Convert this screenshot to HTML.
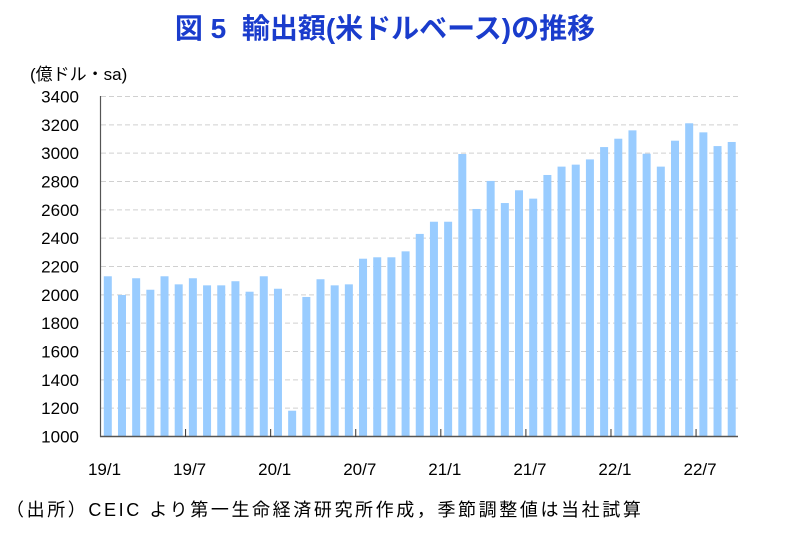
<!DOCTYPE html>
<html><head><meta charset="utf-8"><style>
body{margin:0;background:#fff;width:786px;height:532px;overflow:hidden}
svg text{font-family:"Liberation Sans","Noto Sans CJK JP",sans-serif}
</style></head><body>
<svg width="786" height="532" viewBox="0 0 786 532">
<text x="385" y="38" text-anchor="middle" font-size="28" font-weight="bold" fill="#1a3ccc" xml:space="preserve">図 5  輸出額(米ドルベース)の推移</text>
<text x="30" y="80" font-size="17" fill="#000">(億ドル・sa)</text>
<g id="grid" stroke="#d0d0d0" stroke-dasharray="5,3" stroke-width="1"></g>
<g id="ylab" font-size="17" text-anchor="end" fill="#000"></g>
<g id="bars" fill="#99ccff"></g>
<line x1="100.5" y1="96" x2="100.5" y2="437" stroke="#555" stroke-width="1.2"/>
<line x1="100" y1="436.5" x2="738" y2="436.5" stroke="#555" stroke-width="1.5"/>
<g id="ticks" stroke="#333"></g>
<g id="xlab" font-size="17" text-anchor="middle" fill="#000"></g>
<text x="6" y="516" font-size="18" fill="#000" letter-spacing="2.6">（出所）CEIC より第一生命経済研究所作成，季節調整値は当社試算</text>
</svg>
<script>
var ns="http://www.w3.org/2000/svg";
function el(p,t,a,txt){var e=document.createElementNS(ns,t);for(var k in a)e.setAttribute(k,a[k]);if(txt)e.textContent=txt;document.getElementById(p).appendChild(e);}
function Y(v){return 436.5-(v-1000)*340/2400;}
for(var v=1000;v<=3400;v+=200){var y=Y(v);if(v>1000)el("grid","line",{x1:101,x2:738,y1:y,y2:y});el("ylab","text",{x:79,y:y+6},String(v));}
var d=[2131,1999,2117,2036,2131,2074,2117,2067,2067,2096,2022,2131,2043,1182,1985,2110,2067,2074,2255,2265,2265,2307,2430,2516,2516,2994,2606,2804,2648,2738,2679,2846,2905,2919,2956,3043,3102,3161,2996,2905,3088,3211,3147,3050,3079];
var w=14.18;
d.forEach(function(v,i){var x=100.5+i*w+3.3;el("bars","rect",{x:x,y:Y(v),width:8,height:436.5-Y(v)});});
var labs=["19/1","19/7","20/1","20/7","21/1","21/7","22/1","22/7"];
labs.forEach(function(l,i){var x=100.5+i*6*w;if(i>0)el("ticks","line",{x1:x,x2:x,y1:429,y2:437});el("xlab","text",{x:x+4,y:475},l);});
</script>
</body></html>
